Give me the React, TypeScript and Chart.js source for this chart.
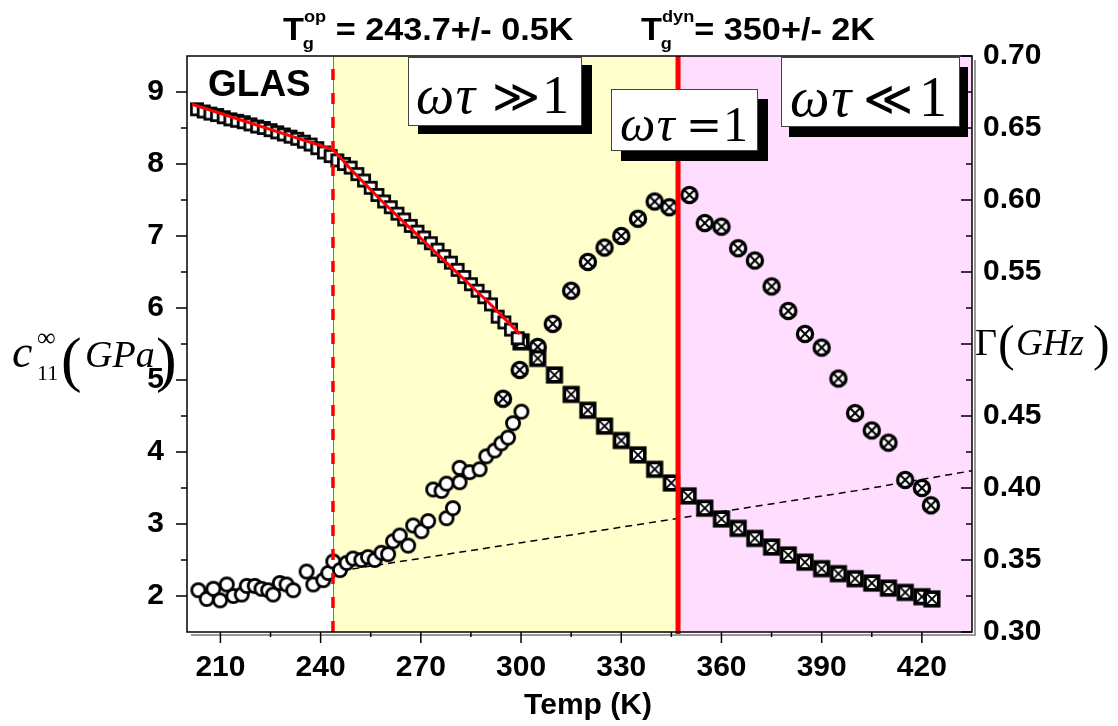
import React, { useEffect, useRef } from "react";
import { Chart, registerables } from "chart.js";
Chart.register(...registerables);

// ---------- data ----------
const openSquareT = [203,205,207,209,211,213,215,217,219,221,223,225,227,229,231,233,235,237,239,241,243,245,247,249,251,253,255,257,259,261,263,265,267,269,271,273,275,277,279,281,283,285,287,289,291,293,295,297,299];
const openSquareC11 = [8.76,8.73,8.70,8.68,8.65,8.62,8.60,8.58,8.55,8.52,8.50,8.47,8.44,8.41,8.38,8.35,8.31,8.27,8.22,8.16,8.11,8.05,8.00,7.95,7.86,7.77,7.67,7.57,7.48,7.40,7.31,7.23,7.14,7.06,6.98,6.90,6.81,6.72,6.63,6.53,6.43,6.33,6.24,6.15,6.05,5.88,5.80,5.70,5.58];

const fitT = [201.5, 243.7, 250, 258, 265, 279, 290, 299.6];
const fitC11 = [8.83, 8.20, 7.88, 7.50, 7.19, 6.57, 6.09, 5.64];

const crossSquareT = [300,305,310,315,320,325,330,335,340,345,350,355,360,365,370,375,380,385,390,395,400,405,410,415,420,423];
const crossSquareC11 = [5.53,5.30,5.07,4.80,4.58,4.36,4.16,3.96,3.76,3.57,3.39,3.22,3.07,2.94,2.80,2.68,2.57,2.47,2.38,2.31,2.24,2.18,2.11,2.05,1.99,1.96];

const openCircleT = [203.4,205.9,207.9,209.9,211.9,213.9,216.4,217.9,220.3,222.3,224.3,225.8,227.8,229.8,231.8,235.8,237.8,240.8,242.3,243.8,245.8,247.8,249.7,252.2,254.2,256.2,258.2,260.2,261.7,263.7,266.2,267.7,270.2,272.2,273.7,276.2,277.7,277.7,279.6,281.6,281.6,284.6,287.6,289.6,292.1,294.1,296.1,297.6,300.1];
const openCircleG = [0.329,0.323,0.330,0.322,0.333,0.325,0.326,0.332,0.332,0.330,0.329,0.326,0.334,0.333,0.329,0.342,0.333,0.336,0.341,0.349,0.343,0.348,0.351,0.350,0.352,0.350,0.355,0.354,0.363,0.367,0.360,0.374,0.370,0.377,0.399,0.398,0.403,0.379,0.386,0.414,0.404,0.411,0.413,0.422,0.426,0.431,0.435,0.445,0.453];

const crossCircleT = [294.6,299.6,305,309.5,315,320,325,330,335,340,344.4,350.4,355,360,365,370,375,380,385,390,395,400,405,410,415,420,422.7];
const crossCircleG = [0.462,0.482,0.498,0.514,0.537,0.557,0.567,0.575,0.587,0.599,0.595,0.6035,0.584,0.5815,0.5665,0.558,0.540,0.523,0.507,0.4975,0.476,0.452,0.440,0.4315,0.4056,0.400,0.388];

const dashT = [246, 300, 350, 400, 435];
const dashG = [0.3425, 0.362, 0.380, 0.398, 0.412];

const regionEdges = [200, 243.7, 347, 435];
const regionColors = ["#FFFFFF", "#FFFFCC", "#FFDDFF"];
const tgOp = 243.7;
const tgDyn = 347;

const xMajorTicks = [210, 240, 270, 300, 330, 360, 390, 420];
const xMinorTicks = [225, 255, 285, 315, 345, 375, 405];
const yMajorTicks = [2, 3, 4, 5, 6, 7, 8, 9];
const yMinorTicks = [2.5, 3.5, 4.5, 5.5, 6.5, 7.5, 8.5];
const y2MajorTicks = [0.30, 0.35, 0.40, 0.45, 0.50, 0.55, 0.60, 0.65, 0.70];
const y2MinorTicks = [0.325, 0.375, 0.425, 0.475, 0.525, 0.575, 0.625, 0.675];
const y2HiddenLabel = 0.50; // covered by the axis title in the original

const titleOp = ["T", "op", "g", " = 243.7+/- 0.5K"];
const titleDyn = ["T", "dyn", "g", "= 350+/- 2K"];
const regimeRel = ["\u226B", "=", "\u226A"];

// ---------- helpers ----------
const zip = (xs: number[], ys: number[]) => xs.map((x, i) => ({ x, y: ys[i] }));

function makeMarker(kind: string): HTMLCanvasElement {
  const s = 26;
  const c = document.createElement("canvas");
  c.width = s;
  c.height = s;
  const g = c.getContext("2d")!;
  const m = s / 2;
  g.fillStyle = "#fff";
  g.strokeStyle = "#000";
  if (kind === "sq") {
    const h = 5.6;
    g.lineWidth = 2.7;
    g.fillRect(m - h, m - h, 2 * h, 2 * h);
    g.strokeRect(m - h, m - h, 2 * h, 2 * h);
  } else if (kind === "sqx") {
    const h = 6.8;
    g.lineWidth = 3.6;
    g.fillRect(m - h, m - h, 2 * h, 2 * h);
    g.strokeRect(m - h, m - h, 2 * h, 2 * h);
    g.lineWidth = 1.8;
    g.beginPath();
    g.moveTo(m - h, m - h); g.lineTo(m + h, m + h);
    g.moveTo(m + h, m - h); g.lineTo(m - h, m + h);
    g.stroke();
  } else if (kind === "ci") {
    g.lineWidth = 2.8;
    g.beginPath();
    g.arc(m, m, 6.6, 0, Math.PI * 2);
    g.fill();
    g.stroke();
  } else if (kind === "cix") {
    const r = 7.6;
    g.lineWidth = 3.3;
    g.beginPath();
    g.arc(m, m, r, 0, Math.PI * 2);
    g.fill();
    g.stroke();
    g.lineWidth = 2;
    const d = r * 0.72;
    g.beginPath();
    g.moveTo(m - d, m - d); g.lineTo(m + d, m + d);
    g.moveTo(m + d, m - d); g.lineTo(m - d, m + d);
    g.stroke();
  }
  return c;
}

const SANS = '"Liberation Sans", Arial, sans-serif';
const SERIF = '"Liberation Serif", "DejaVu Serif", "DejaVu Sans", serif';

function drawRegimeBox(
  ctx: CanvasRenderingContext2D,
  box: number[],
  shadow: number[],
  rel: string,
  pos: number[],
  base: number,
  size: number
) {
  const [x0, y0, x1, y1] = box;
  const [dx, dy] = shadow;
  const [omegaX, relCX, oneRX] = pos;
  ctx.save();
  ctx.fillStyle = "#000";
  ctx.fillRect(x0 + dx, y0 + dy, x1 - x0, y1 - y0);
  ctx.fillStyle = "#fff";
  ctx.fillRect(x0, y0, x1 - x0, y1 - y0);
  ctx.strokeStyle = "#444";
  ctx.lineWidth = 1;
  ctx.strokeRect(x0 + 0.5, y0 + 0.5, x1 - x0 - 1, y1 - y0 - 1);
  ctx.fillStyle = "#000";
  ctx.textBaseline = "alphabetic";
  ctx.textAlign = "left";
  ctx.font = `italic ${size}px ${SERIF}`;
  ctx.fillText("\u03C9", omegaX, base);
  const wOmega = ctx.measureText("\u03C9").width;
  ctx.fillText("\u03C4", omegaX + wOmega + size * 0.03, base);
  ctx.font = `${size}px ${SERIF}`;
  ctx.textAlign = "right";
  ctx.fillText("1", oneRX, base);
  ctx.textAlign = "center";
  ctx.font = `${Math.round(size * 0.85)}px "DejaVu Serif", ${SERIF}`;
  ctx.fillText(rel, relCX, base - size * 0.02);
  ctx.restore();
}

function drawTg(ctx: CanvasRenderingContext2D, parts: string[], x: number) {
  ctx.save();
  ctx.fillStyle = "#000";
  ctx.textAlign = "left";
  ctx.textBaseline = "alphabetic";
  ctx.translate(x, 0);
  ctx.scale(1.07, 1);
  ctx.font = `bold 32px ${SANS}`;
  ctx.fillText(parts[0], 0, 40);
  const tw = ctx.measureText(parts[0]).width;
  ctx.font = `bold 17px ${SANS}`;
  ctx.fillText(parts[1], tw, 22);
  const supW = ctx.measureText(parts[1]).width;
  ctx.fillText(parts[2], tw - 1, 49);
  ctx.font = `bold 32px ${SANS}`;
  ctx.fillText(parts[3], tw + supW, 40);
  ctx.restore();
}

const decorPlugin = {
  id: "decor",
  beforeDatasetsDraw(chart: any) {
    const { ctx, chartArea: a, scales } = chart;
    const x = scales.x;
    ctx.save();
    for (let i = 0; i < regionColors.length; i++) {
      const x0 = x.getPixelForValue(regionEdges[i]);
      const x1 = x.getPixelForValue(regionEdges[i + 1]);
      ctx.fillStyle = regionColors[i];
      ctx.fillRect(x0, a.top, x1 - x0, a.bottom - a.top);
    }
    ctx.strokeStyle = "#777";
    ctx.lineWidth = 1;
    for (let i = 1; i < regionEdges.length - 1; i++) {
      const xp = Math.round(x.getPixelForValue(regionEdges[i])) + 0.5;
      ctx.beginPath();
      ctx.moveTo(xp, a.top);
      ctx.lineTo(xp, a.bottom);
      ctx.stroke();
    }
    ctx.restore();
  },
  afterDatasetsDraw(chart: any) {
    const { ctx, chartArea: a, scales } = chart;
    const x = scales.x, y = scales.y, y2 = scales.y2;
    ctx.save();
    ctx.strokeStyle = "#FF0000";
    ctx.lineWidth = 3.5;
    ctx.setLineDash([11, 13]);
    const xo = x.getPixelForValue(tgOp);
    ctx.beginPath();
    ctx.moveTo(xo, a.bottom);
    ctx.lineTo(xo, a.top);
    ctx.stroke();
    ctx.setLineDash([]);
    ctx.lineWidth = 5;
    const xd = x.getPixelForValue(tgDyn);
    ctx.beginPath();
    ctx.moveTo(xd, a.top);
    ctx.lineTo(xd, a.bottom + 4);
    ctx.stroke();
    ctx.strokeStyle = "#999";
    ctx.lineWidth = 2;
    ctx.beginPath();
    ctx.moveTo(a.left + 4, a.bottom + 3);
    ctx.lineTo(a.right + 3, a.bottom + 3);
    ctx.lineTo(a.right + 3, a.top + 4);
    ctx.stroke();
    ctx.strokeStyle = "#000";
    ctx.lineWidth = 1.5;
    ctx.strokeRect(a.left, a.top, a.right - a.left, a.bottom - a.top);
    ctx.lineWidth = 1.5;
    ctx.beginPath();
    for (const v of xMajorTicks) { const p = x.getPixelForValue(v); ctx.moveTo(p, a.bottom); ctx.lineTo(p, a.bottom + 11); }
    for (const v of xMinorTicks) { const p = x.getPixelForValue(v); ctx.moveTo(p, a.bottom); ctx.lineTo(p, a.bottom + 5); }
    for (const v of yMajorTicks) { const p = y.getPixelForValue(v); ctx.moveTo(a.left, p); ctx.lineTo(a.left - 11, p); }
    for (const v of yMinorTicks) { const p = y.getPixelForValue(v); ctx.moveTo(a.left, p); ctx.lineTo(a.left - 6, p); }
    for (const v of y2MajorTicks) { const p = y2.getPixelForValue(v); ctx.moveTo(a.right, p); ctx.lineTo(a.right - 11, p); }
    for (const v of y2MinorTicks) { const p = y2.getPixelForValue(v); ctx.moveTo(a.right, p); ctx.lineTo(a.right - 6, p); }
    ctx.stroke();
    ctx.restore();
  },
  afterDraw(chart: any) {
    const { ctx } = chart;
    ctx.save();
    ctx.fillStyle = "#000";
    ctx.font = `bold 37px ${SANS}`;
    ctx.textBaseline = "alphabetic";
    ctx.textAlign = "left";
    ctx.fillText("GLAS", 208, 96);
    drawRegimeBox(ctx, [408, 57, 582, 126], [10, 8], regimeRel[0], [416, 516, 569], 113, 54);
    drawRegimeBox(ctx, [611, 89, 758, 151], [10, 10], regimeRel[1], [620, 704, 748], 141, 50);
    drawRegimeBox(ctx, [781, 57, 960, 127], [8, 10], regimeRel[2], [790, 888, 947], 116, 56);
    drawTg(ctx, titleOp, 283);
    drawTg(ctx, titleDyn, 641);
    ctx.fillStyle = "#000";
    ctx.font = `bold 30px ${SANS}`;
    ctx.textAlign = "center";
    ctx.fillText("Temp (K)", 588, 714);
    // left title
    ctx.textAlign = "left";
    ctx.font = `italic 46px ${SERIF}`;
    ctx.fillText("c", 12, 367);
    ctx.font = `26px ${SERIF}`;
    ctx.fillText("\u221E", 37, 346);
    ctx.font = `22px ${SERIF}`;
    ctx.fillText("11", 37, 380);
    ctx.font = `62px ${SERIF}`;
    ctx.fillText("(", 61, 380);
    ctx.font = `italic 38px ${SERIF}`;
    ctx.fillText("GPa", 85, 367);
    ctx.font = `62px ${SERIF}`;
    ctx.fillText(")", 156, 380);
    // right title
    ctx.font = `38px ${SERIF}`;
    ctx.fillText("\u0393", 975, 355);
    ctx.font = `50px ${SERIF}`;
    ctx.fillText("(", 998, 360);
    ctx.font = `italic 37px ${SERIF}`;
    ctx.fillText("GHz", 1016, 355);
    ctx.font = `50px ${SERIF}`;
    ctx.fillText(")", 1093, 360);
    ctx.restore();
  },
};

export default function App() {
  const ref = useRef<HTMLCanvasElement | null>(null);
  useEffect(() => {
    if (!ref.current) return;
    const mSq = makeMarker("sq");
    const mSqx = makeMarker("sqx");
    const mCi = makeMarker("ci");
    const mCix = makeMarker("cix");
    const tickFont = { family: SANS, size: 30, weight: "bold" as const };
    const chart = new Chart(ref.current, {
      type: "scatter",
      data: {
        datasets: [
          { label: "fit", data: zip(fitT, fitC11), yAxisID: "y", showLine: true, borderColor: "#FF0000", borderWidth: 3, pointRadius: 0, fill: false },
          { label: "c11 open", data: zip(openSquareT, openSquareC11), yAxisID: "y", pointStyle: mSq, pointRadius: 8 },
          { label: "c11 crossed", data: zip(crossSquareT, crossSquareC11), yAxisID: "y", pointStyle: mSqx, pointRadius: 8 },
          { label: "Gamma crossed", data: zip(crossCircleT, crossCircleG), yAxisID: "y2", pointStyle: mCix, pointRadius: 8 },
          { label: "Gamma open", data: zip(openCircleT, openCircleG), yAxisID: "y2", pointStyle: mCi, pointRadius: 8 },
          { label: "background", data: zip(dashT, dashG), yAxisID: "y2", showLine: true, borderColor: "#000", borderWidth: 1.5, borderDash: [7, 5], pointRadius: 0, fill: false },
        ],
      },
      options: {
        animation: false,
        responsive: false,
        layout: { padding: { top: 56, left: 0, right: 0, bottom: 0 } },
        plugins: { legend: { display: false }, tooltip: { enabled: false }, title: { display: false } },
        scales: {
          x: {
            type: "linear",
            position: "bottom",
            min: 200,
            max: 435,
            grid: { display: false, drawTicks: false },
            border: { display: false },
            ticks: { font: tickFont, color: "#000", padding: 18, maxRotation: 0 },
            afterBuildTicks: (s: any) => { s.ticks = xMajorTicks.map((v) => ({ value: v })); },
            afterFit: (s: any) => { s.height = 94; },
          },
          y: {
            type: "linear",
            position: "left",
            min: 1.5,
            max: 9.5,
            grid: { display: false, drawTicks: false },
            border: { display: false },
            ticks: { font: tickFont, color: "#000", padding: 23 },
            afterBuildTicks: (s: any) => { s.ticks = yMajorTicks.map((v) => ({ value: v })); },
            afterFit: (s: any) => { s.width = 187; },
          },
          y2: {
            type: "linear",
            position: "right",
            min: 0.3,
            max: 0.7,
            grid: { display: false, drawTicks: false },
            border: { display: false },
            ticks: {
              font: tickFont,
              color: "#000",
              padding: 11,
              callback: (v: any) => (Math.abs(Number(v) - y2HiddenLabel) < 1e-6 ? "" : Number(v).toFixed(2)),
            },
            afterBuildTicks: (s: any) => { s.ticks = y2MajorTicks.map((v) => ({ value: v })); },
            afterFit: (s: any) => { s.width = 146; },
          },
        },
      },
      plugins: [decorPlugin],
    });
    return () => chart.destroy();
  }, []);
  return (
    <div style={{ position: "fixed", left: 0, top: 0, width: 1118, height: 726, background: "#fff" }}>
      <canvas ref={ref} width={1118} height={726} style={{ display: "block" }} />
    </div>
  );
}
